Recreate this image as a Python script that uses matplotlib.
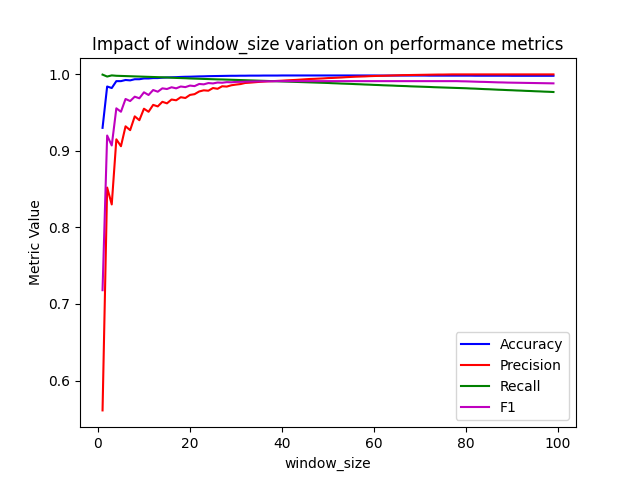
import matplotlib
matplotlib.use('Agg')
import matplotlib.pyplot as plt

window_size = list(range(1, 100))

# values
accuracy = [
    0.930, 0.984, 0.982, 0.991, 0.991, 0.9925, 0.992, 0.9935, 0.9935, 0.9945,
    0.9945, 0.995, 0.995, 0.9955, 0.9958, 0.996, 0.9962, 0.9965, 0.9967, 0.9968,
    0.997, 0.9972, 0.9973, 0.9975, 0.9976, 0.9977, 0.9978, 0.9979, 0.998, 0.998,
    0.9981, 0.9981, 0.9982, 0.9982, 0.9982, 0.9983, 0.9983, 0.9983, 0.9983, 0.9984,
    0.9984, 0.9984, 0.9984, 0.9984, 0.9984, 0.9984, 0.9984, 0.9984, 0.9984, 0.9984,
    0.9984, 0.9984, 0.9984, 0.9984, 0.9984, 0.9984, 0.9984, 0.9984, 0.9984, 0.9984,
    0.9983, 0.9983, 0.9983, 0.9983, 0.9983, 0.9983, 0.9983, 0.9983, 0.9983, 0.9983,
    0.9983, 0.9982, 0.9982, 0.9982, 0.9982, 0.9982, 0.9982, 0.9982, 0.9982, 0.9982,
    0.9982, 0.9981, 0.9981, 0.9981, 0.9981, 0.9981, 0.9981, 0.9981, 0.9981, 0.998,
    0.998, 0.998, 0.998, 0.998, 0.998, 0.998, 0.998, 0.998, 0.998,
]
precision = [
    0.561, 0.852, 0.830, 0.915, 0.906, 0.932, 0.927, 0.945, 0.940, 0.955,
    0.951, 0.960, 0.958, 0.964, 0.962, 0.967, 0.966, 0.970, 0.969, 0.973,
    0.974, 0.9775, 0.979, 0.9785, 0.982, 0.981, 0.9843, 0.9839, 0.9856, 0.9865,
    0.9872, 0.9886, 0.989, 0.9895, 0.990, 0.9904, 0.9908, 0.991, 0.9913, 0.9916,
    0.992, 0.9923, 0.9926, 0.993, 0.9934, 0.9938, 0.994, 0.9943, 0.9946, 0.995,
    0.9952, 0.9955, 0.9958, 0.9962, 0.9965, 0.9968, 0.997, 0.9972, 0.9975, 0.9977,
    0.9979, 0.998, 0.9982, 0.9984, 0.9986, 0.9988, 0.9989, 0.999, 0.9991, 0.9992,
    0.9993, 0.9994, 0.9995, 0.9996, 0.9996, 0.9997, 0.9998, 0.9998, 0.9998, 0.9998,
    0.9998, 0.9998, 0.9998, 0.9998, 0.9998, 0.9998, 0.9998, 0.9998, 0.9998, 0.9998,
    0.9998, 0.9998, 0.9998, 0.9998, 0.9998, 0.9998, 0.9998, 0.9998, 0.9998,
]
recall = [
    0.9995, 0.997, 0.9985, 0.998, 0.9978, 0.9976, 0.9974, 0.9972, 0.997, 0.9968,
    0.9966, 0.9964, 0.9962, 0.996, 0.9958, 0.9955, 0.9952, 0.995, 0.9948, 0.9945,
    0.9943, 0.9941, 0.9939, 0.9937, 0.9935, 0.9933, 0.9932, 0.993, 0.9928, 0.9926,
    0.9924, 0.9922, 0.992, 0.9918, 0.9916, 0.9914, 0.9912, 0.991, 0.9908, 0.9906,
    0.9904, 0.9902, 0.990, 0.9898, 0.9896, 0.9894, 0.9892, 0.989, 0.9888, 0.9886,
    0.9883, 0.9881, 0.9878, 0.9876, 0.9874, 0.9871, 0.9869, 0.9866, 0.9864, 0.9861,
    0.9859, 0.9856, 0.9854, 0.9852, 0.9849, 0.9847, 0.9845, 0.9842, 0.984, 0.9838,
    0.9836, 0.9834, 0.9831, 0.9829, 0.9827, 0.9825, 0.9823, 0.9821, 0.9819, 0.9817,
    0.9814, 0.9812, 0.9809, 0.9806, 0.9804, 0.9801, 0.9798, 0.9796, 0.9793, 0.9791,
    0.9788, 0.9786, 0.9783, 0.9781, 0.9778, 0.9776, 0.9773, 0.9771, 0.9768,
]
f1 = [
    0.718, 0.920, 0.907, 0.9555, 0.951, 0.9677, 0.965, 0.9707, 0.9686, 0.9764,
    0.9729, 0.9794, 0.9772, 0.9816, 0.9807, 0.983, 0.9816, 0.984, 0.9832, 0.9852,
    0.9845, 0.9873, 0.9868, 0.9885, 0.988, 0.9892, 0.9889, 0.9897, 0.9895, 0.990,
    0.9901, 0.9903, 0.9905, 0.9906, 0.9907, 0.9908, 0.9908, 0.9909, 0.991, 0.991,
    0.991, 0.991, 0.991, 0.991, 0.991, 0.991, 0.991, 0.991, 0.991, 0.991,
    0.991, 0.991, 0.991, 0.991, 0.991, 0.991, 0.991, 0.991, 0.991, 0.991,
    0.991, 0.991, 0.991, 0.991, 0.991, 0.991, 0.991, 0.991, 0.991, 0.991,
    0.991, 0.991, 0.991, 0.991, 0.991, 0.991, 0.991, 0.991, 0.9908, 0.9907,
    0.9905, 0.9903, 0.9901, 0.99, 0.9898, 0.9896, 0.9894, 0.9893, 0.9891, 0.989,
    0.9889, 0.9888, 0.9887, 0.9886, 0.9885, 0.9884, 0.9883, 0.9882, 0.9881,
]

plt.figure(figsize=(6.4, 4.8), dpi=100)
plt.plot(window_size, accuracy, 'b', label='Accuracy')
plt.plot(window_size, precision, 'r', label='Precision')
plt.plot(window_size, recall, 'g', label='Recall')
plt.plot(window_size, f1, 'm', label='F1')
plt.title('Impact of window_size variation on performance metrics')
plt.xlabel('window_size')
plt.ylabel('Metric Value')
plt.legend(loc='lower right')
plt.savefig('out.png')
plt.close()
